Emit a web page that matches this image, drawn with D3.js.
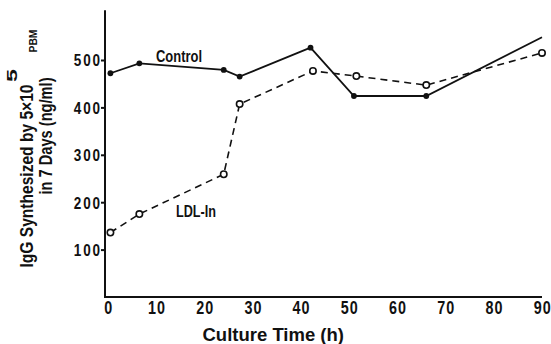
<!DOCTYPE html>
<html>
<head>
<meta charset="utf-8">
<script src="https://cdn.jsdelivr.net/npm/d3@7/dist/d3.min.js"></script>
<style>
  html, body { margin: 0; padding: 0; background: #fff; }
  svg text { font-family: "Liberation Sans", Arial, sans-serif; font-weight: bold; fill: #111; }
</style>
</head>
<body>
<svg id="chart" width="551" height="344"></svg>
<script>
// Culture time (h) and IgG synthesized (ng/ml)
const controlTime = [0.5, 6.5, 24, 27.3, 42, 51, 66, 90];
const controlIgG  = [472, 493, 479, 465, 526, 424, 424, 548];
const ldlTime     = [0.5, 6.5, 24, 27.3, 42.5, 51.5, 66, 90];
const ldlIgG      = [136, 175, 259, 407, 477, 466, 447, 515];
const xTicks = [0, 10, 20, 30, 40, 50, 60, 70, 80, 90];
const yTicks = [100, 200, 300, 400, 500];

const svg = d3.select("#chart");
const x = d3.scaleLinear().domain([0, 90]).range([108, 542]);
const y = d3.scaleLinear().domain([0, 600]).range([297, 12.6]);
const ink = "#111";
const sx = 0.82; // horizontal squeeze for a condensed bold face

// condensed text fitted to a given run length
function ftext(px, py, size, str, len, opts = {}) {
  const rot = opts.rotate ? ` rotate(${opts.rotate})` : "";
  return svg.append("text")
    .attr("transform", `translate(${px},${py})${rot}`)
    .attr("font-size", size)
    .attr("text-anchor", opts.anchor || "start")
    .attr("textLength", len)
    .attr("lengthAdjust", "spacingAndGlyphs")
    .text(str);
}

// axes
const yAxis = d3.axisLeft(y).tickValues(yTicks).tickSize(4).tickPadding(1).tickFormat(d3.format("d"));
const gy = svg.append("g").attr("transform", "translate(105,0)").call(yAxis);
gy.select(".domain").remove();
gy.selectAll(".tick line").attr("stroke", ink).attr("stroke-width", 2);
gy.selectAll(".tick text").each(function () {
  const t = d3.select(this);
  const px = +t.attr("x");
  t.attr("x", (px + 1.8) / sx).attr("dy", "0.36em")
   .attr("transform", `scale(${sx},1)`)
   .attr("font-size", 16.5).attr("letter-spacing", 1.8 / sx)
   .attr("font-family", null).style("fill", ink);
});

svg.append("line").attr("x1", 105).attr("x2", 105).attr("y1", y(605)).attr("y2", y(0) + 1)
  .attr("stroke", ink).attr("stroke-width", 2);
svg.append("line").attr("x1", 104).attr("x2", 542).attr("y1", y(0)).attr("y2", y(0))
  .attr("stroke", ink).attr("stroke-width", 2);

const xAxis = d3.axisBottom(x).tickValues(xTicks).tickSize(0).tickPadding(4).tickFormat(d3.format("d"));
const gx = svg.append("g").attr("transform", `translate(0,${y(0)})`).call(xAxis);
gx.select(".domain").remove();
gx.selectAll(".tick text").each(function () {
  d3.select(this)
    .attr("transform", `scale(${sx},1)`).attr("x", 0.2 / sx)
    .attr("font-size", 17.5).attr("letter-spacing", 1.0 / sx).attr("dy", "0.74em")
    .attr("font-family", null).style("fill", ink);
});

// series
const control = controlTime.map((t, i) => ({ t, v: controlIgG[i] }));
const ldl = ldlTime.map((t, i) => ({ t, v: ldlIgG[i] }));
const line = d3.line().x(d => x(d.t)).y(d => y(d.v));

svg.append("path").datum(ldl).attr("d", line)
  .attr("fill", "none").attr("stroke", ink).attr("stroke-width", 1.6)
  .attr("stroke-dasharray", "7,5");
svg.append("path").datum(control).attr("d", line)
  .attr("fill", "none").attr("stroke", ink).attr("stroke-width", 1.8);

svg.selectAll(".ctl").data(control.filter(d => d.t < 90)).join("circle")
  .attr("cx", d => x(d.t)).attr("cy", d => y(d.v)).attr("r", 2.9).attr("fill", ink);
svg.selectAll(".ldl").data(ldl).join("circle")
  .attr("cx", d => x(d.t)).attr("cy", d => y(d.v)).attr("r", 3.2)
  .attr("fill", "#fff").attr("stroke", ink).attr("stroke-width", 1.6);

// series labels
ftext(156, 61.5, 16, "Control", 46);
ftext(176, 216.5, 16, "LDL-In", 40);

// axis titles
ftext(202.5, 341, 17.5, "Culture Time (h)", 141.5);

ftext(33, 267.5, 18, "IgG Synthesized by 5×10", 183, { rotate: -90 });
ftext(17, 82, 14, "5", 13, { rotate: -90 });
ftext(36.5, 52.5, 11.5, "PBM", 23, { rotate: -90 });
ftext(52, 194.5, 18, "in 7 Days (ng/ml)", 117, { rotate: -90 });
</script>
</body>
</html>
